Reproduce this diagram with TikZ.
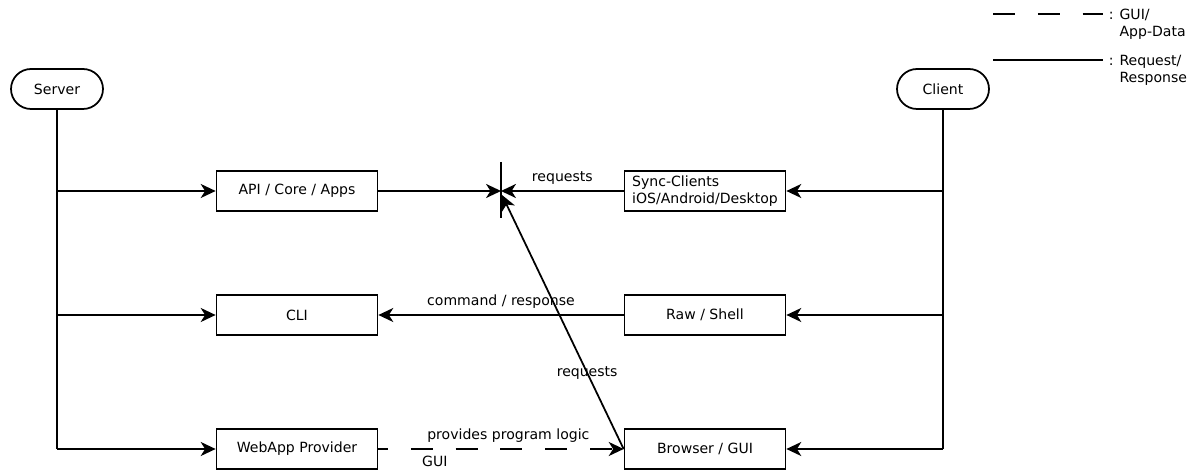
\documentclass[tikz,border=0pt]{standalone}
\usepackage{fontspec}
\setmainfont{DejaVu Sans}
\usepackage{tikz}
\usetikzlibrary{arrows.meta, positioning}

\begin{document}
\begin{tikzpicture}[x=0.02cm, y=-0.02cm,
    font=\fontsize{8}{10}\selectfont,
    every path/.style={line width=1pt},
    box/.style={draw, rectangle, minimum width=3.22cm, minimum height=0.8cm, inner sep=2pt},
    term/.style={draw, rectangle, rounded corners=0.4cm, minimum width=1.84cm, minimum height=0.8cm},
    arr/.style={-{Stealth[length=8.5pt,width=8pt,inset=2.5pt]}},
    gui/.style={dash pattern=on 12.5pt off 13pt}]

  \useasboundingbox (0,0) rectangle (1199,472);

  %% Terminals
  \node[term] (Server) at (57,89) {Server};
  \node[term] (Client) at (943,89) {Client};

  %% Server side
  \node[box] (API) at (297,191) {API / Core / Apps};
  \node[box] (CLI) at (297,315) {CLI};
  \node[box] (WebApp) at (297,449) {WebApp Provider};

  %% Client side
  \node[box, align=left] (Sync) at (705,191)
    {Sync-Clients\\iOS/Android/Desktop};
  \node[box] (Raw) at (705,315) {Raw / Shell};
  \node[box] (Browser) at (705,449) {Browser / GUI};

  %% Bus lines
  \draw (Server.south) -- (Server.south |- WebApp.west);
  \foreach \n in {API, CLI, WebApp}
    \draw[arr] (Server.south |- \n.west) -- (\n.west);
  \draw (Client.south) -- (Client.south |- Browser.east);
  \foreach \n in {Sync, Raw, Browser}
    \draw[arr] (Client.south |- \n.east) -- (\n.east);

  %% Junction of requests
  \coordinate (junc) at (501,191);
  \coordinate (jreq) at (502,195);
  \coordinate (jtop) at (501,162);
  \coordinate (jbot) at (501,218);
  \draw (jtop) -- (jbot);
  \draw[arr] (API.east) -- (junc);
  \draw[arr] (Sync.west) -- node[above] {requests} (junc);
  \draw[arr] (Browser.west) -- node[pos=0.3] {requests} (jreq);

  %% Shell and GUI
  \draw[arr] (Raw.west) -- node[above] {command / response} (CLI.east);
  \draw[arr, gui, dash phase=7pt] (WebApp.east) -- node[above, pos=0.53] {provides program logic}
    node[below, pos=0.23] {GUI} (Browser.west);

  %% Legend
  \coordinate (lg1a) at (993,14);
  \coordinate (lg1b) at (1103,14);
  \coordinate (lg2a) at (993,60);
  \coordinate (lg2b) at (1103,60);
  \draw[gui] (lg1a) -- (lg1b);
  \draw (lg2a) -- (lg2b);
  \node[anchor=north west, align=left, inner sep=0pt] (lgt1) at (1108,8)
    {: GUI/\\\phantom{: }App-Data};
  \node[anchor=north west, align=left, inner sep=0pt] (lgt2) at (1108,54)
    {: Request/\\\phantom{: }Response};

\end{tikzpicture}
\end{document}
